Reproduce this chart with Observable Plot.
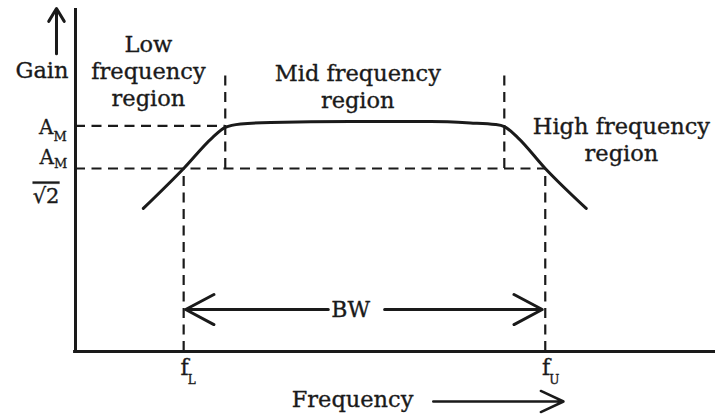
<!DOCTYPE html>
<html><head><meta charset="utf-8">
<script src="https://cdn.jsdelivr.net/npm/d3@7"></script>
<script src="https://cdn.jsdelivr.net/npm/@observablehq/plot@0.6"></script>
<style>
html,body{margin:0;padding:0;background:#fff}
</style></head><body><div id="chart"></div>
<script>
// ---- data (arbitrary frequency units 0–100, gain relative to A_M = 1) ----
const freq = [10.6, 16.9, 21.4, 23.4, 25.8, 30.5, 43.0, 55.5, 61.7, 65.6, 67.0, 69.1, 73.4, 79.8];
const gain = [0.634, 0.811, 0.948, 0.993, 1.008, 1.015, 1.019, 1.019, 1.013, 1.006, 0.997, 0.948, 0.811, 0.634];
const midbandGain = 1.0;          // A_M
const cutoffGain = 0.811;         // A_M / √2 level as drawn
const cutoffFreqs = [16.9, 73.4]; // f_L, f_U
const cutoffSubs = ["L", "U"];
const regionBounds = [23.4, 67.0];
const regionLabels = ["Low\nfrequency\nregion", "Mid frequency\nregion", "High frequency\nregion"];
const axisLabels = ["Gain", "Frequency"];
const bandLabel = "BW";

const curve = freq.map((f, i) => ({f, g: gain[i]}));
const ink = "#1a1a1a";
const dash = "10,6.5";
const F = 22.5;
const T = {fill: ink, stroke: ink, strokeWidth: 0.35};

const chart = Plot.plot({
  width: 715, height: 414,
  marginLeft: 75, marginRight: 0, marginTop: 8, marginBottom: 63,
  x: {domain: [0, 100], axis: null},
  y: {domain: [0, 1.52], axis: null},
  style: {fontFamily: "'DejaVu Serif', serif", background: "#fff", color: ink, overflow: "visible"},
  marks: [
    // dashed guide lines
    Plot.ruleY([midbandGain], {x1: 0, x2: regionBounds[0], stroke: ink, strokeWidth: 2.2, strokeDasharray: dash}),
    Plot.ruleY([cutoffGain], {x1: 0, x2: cutoffFreqs[1], stroke: ink, strokeWidth: 2.2, strokeDasharray: dash}),
    Plot.ruleX(cutoffFreqs, {y1: 0, y2: cutoffGain, stroke: ink, strokeWidth: 2.2, strokeDasharray: dash}),
    Plot.ruleX(regionBounds, {y1: cutoffGain, y2: 1.236, stroke: ink, strokeWidth: 2.2, strokeDasharray: dash}),
    // response curve
    Plot.line(curve, {x: "f", y: "g", curve: "monotone-x", stroke: ink, strokeWidth: 3}),
    // axes
    Plot.ruleX([0], {y1: 0, y2: 1.52, stroke: ink, strokeWidth: 3}),
    Plot.ruleY([0], {x1: -0.3, x2: 100, stroke: ink, strokeWidth: 3}),
    // axis arrows
    Plot.arrow([0], {x1: -2.97, x2: -2.97, y1: 1.32, y2: 1.52, stroke: ink, strokeWidth: 3, headLength: 17, headAngle: 62}),
    Plot.arrow([0], {x1: 55.9, x2: 76.25, y1: -0.2216, y2: -0.2216, stroke: ink, strokeWidth: 2.5, headLength: 15, headAngle: 50}),
    // bandwidth arrows
    Plot.arrow([0], {x1: 39.5, x2: cutoffFreqs[0], y1: 0.186, y2: 0.186, insetEnd: 2, stroke: ink, strokeWidth: 3, headLength: 16, headAngle: 56}),
    Plot.arrow([0], {x1: 48.3, x2: cutoffFreqs[1], y1: 0.186, y2: 0.186, insetEnd: 3, stroke: ink, strokeWidth: 3, headLength: 16, headAngle: 56}),
    Plot.text([bandLabel], {x: 43.0, y: 0.151, text: d => d, lineAnchor: "bottom", fontSize: 22, ...T}),
    // region labels
    Plot.text([regionLabels[0]], {x: 11.4, y: 1.086, text: d => d, lineAnchor: "bottom", lineHeight: 1.2, fontSize: F, ...T}),
    Plot.text([regionLabels[1]], {x: 44.1, y: 1.081, text: d => d, lineAnchor: "bottom", lineHeight: 1.2, fontSize: F, ...T}),
    Plot.text([regionLabels[2]], {x: 85.3, y: 0.846, text: d => d, lineAnchor: "bottom", lineHeight: 1.2, fontSize: F, ...T}),
    // axis titles
    Plot.text([axisLabels[0]], {x: -1.09, y: 1.214, text: d => d, textAnchor: "end", lineAnchor: "bottom", fontSize: F, ...T}),
    Plot.text([axisLabels[1]], {x: 52.8, y: -0.248, text: d => d, textAnchor: "end", lineAnchor: "bottom", fontSize: F, ...T}),
    // gain level labels
    Plot.text([midbandGain], {x: -3.44, y: 0.962, text: () => "A", textAnchor: "end", lineAnchor: "bottom", fontSize: 20, ...T}),
    Plot.text([midbandGain], {x: -3.44, y: 0.935, text: () => "M", textAnchor: "start", lineAnchor: "bottom", fontSize: 13, ...T}),
    Plot.text([cutoffGain], {x: -3.36, y: 0.833, text: () => "A", textAnchor: "end", lineAnchor: "bottom", fontSize: 20, ...T}),
    Plot.text([cutoffGain], {x: -3.36, y: 0.815, text: () => "M", textAnchor: "start", lineAnchor: "bottom", fontSize: 13, ...T}),
    Plot.text([cutoffGain], {x: -4.6, y: 0.660, text: () => "\u221A2", textAnchor: "middle", lineAnchor: "bottom", fontSize: 21, ...T}),
    // cutoff frequency labels
    Plot.text(cutoffFreqs, {x: d => d, y: -0.106, text: () => "f", textAnchor: "end", lineAnchor: "bottom", dx: 5, fontSize: 22, ...T}),
    Plot.text(cutoffFreqs, {x: d => d, y: -0.142, text: (d, i) => cutoffSubs[i], textAnchor: "start", lineAnchor: "bottom", dx: 4, fontSize: 12, ...T})
  ]
});

d3.select(chart).selectAll("text")
  .filter(function () { return this.textContent === "\u221A2"; })
  .style("text-decoration", "overline");

document.getElementById("chart").appendChild(chart);
</script>
</body></html>
